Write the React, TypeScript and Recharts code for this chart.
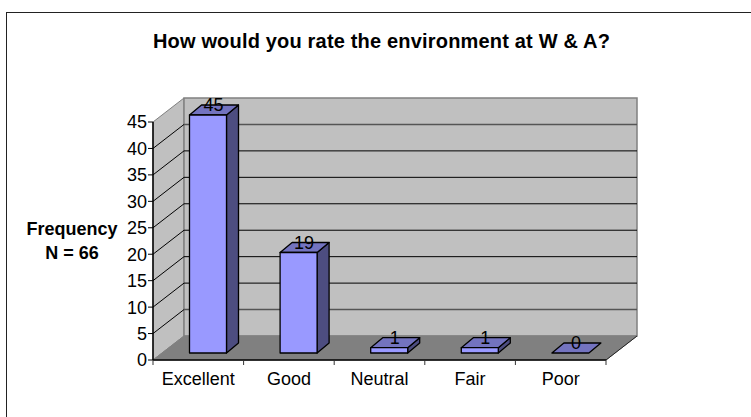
import { BarChart, Bar, XAxis, YAxis, Rectangle, ReferenceArea, ReferenceLine } from "recharts";

const categories = ["Excellent", "Good", "Neutral", "Fair", "Poor"];
const frequency = [45, 19, 1, 1, 0];
const yTicks = [0, 5, 10, 15, 20, 25, 30, 35, 40, 45];
const gridValues = [5, 10, 15, 20, 25, 30, 35, 40];

const data = categories.map((name, i) => ({ name, value: frequency[i] }));

// 3d look of the old excel chart
const DEPTH_X = 31;
const DEPTH_Y = 24;
const BAR_X = 9.5;
const BAR_Y = 7;
const BAR_DX = 12;
const BAR_DY = 10;
const BAND = 90.6;

function Bar3D(props: any) {
  const { x, y, width, height } = props;
  const l = x + BAR_X;
  const r = l + width;
  const t = y - BAR_Y;
  const b = t + height;
  return (
    <g stroke="#000" strokeWidth={1.3} strokeLinejoin="round">
      {height > 0 && <path d={`M${r} ${t}L${r + BAR_DX} ${t - BAR_DY}V${b - BAR_DY}L${r} ${b}Z`} fill="#4d4d80" />}
      <path d={`M${l} ${t}L${l + BAR_DX} ${t - BAR_DY}H${r + BAR_DX}L${r} ${t}Z`} fill="#7373bf" />
      {height > 0 && <Rectangle x={l} y={t} width={width} height={height} fill="#9999ff" stroke="#000" strokeWidth={1.3} />}
    </g>
  );
}

// wall line plus the slanted piece on the side wall
function GridLine(props: any) {
  const { x1, x2, y1, soft } = props;
  return (
    <g>
      <line x1={x1} y1={y1} x2={x1 + DEPTH_X} y2={y1 - DEPTH_Y} stroke="#000" />
      <line x1={x1 + DEPTH_X} y1={y1 - DEPTH_Y} x2={x2 + DEPTH_X} y2={y1 - DEPTH_Y} stroke={soft ? "#555" : "#000"} strokeWidth={soft ? 1.5 : 1} />
    </g>
  );
}

function Walls(props: any) {
  const { x, y, width, height } = props;
  const bottom = y + height;
  return (
    <g>
      <path
        d={`M${x} ${y}L${x + DEPTH_X} ${y - DEPTH_Y}V${bottom - DEPTH_Y}L${x} ${bottom}Z`}
        fill="#c0c0c0"
        stroke="#808080"
      />
      <rect x={x + DEPTH_X} y={y - DEPTH_Y} width={width} height={height} fill="#c0c0c0" stroke="#808080" strokeWidth={1.5} />
      <path
        d={`M${x} ${bottom}L${x + DEPTH_X} ${bottom - DEPTH_Y}H${x + width + DEPTH_X}L${x + width} ${bottom}Z`}
        fill="#808080"
        stroke="#808080"
      />
      <line x1={x + width} y1={bottom} x2={x + width + DEPTH_X} y2={bottom - DEPTH_Y} stroke="#222" />
    </g>
  );
}

// excel puts the tick marks between the categories
function XTick(props: any) {
  const { x, y, payload, index } = props;
  const left = x - BAND / 2;
  return (
    <g>
      <line x1={left} y1={y - 7} x2={left} y2={y - 2} stroke="#333" />
      {index === categories.length - 1 && <line x1={left + BAND} y1={y - 7} x2={left + BAND} y2={y - 2} stroke="#333" />}
      <text x={x} y={y + 18} textAnchor="middle" fontSize={18} fill="#000">
        {payload.value}
      </text>
    </g>
  );
}

export default function App() {
  return (
    <div style={{ position: "absolute", left: 0, top: 0, width: 751, height: 417, background: "#fff", overflow: "hidden", fontFamily: "'Liberation Sans', Arial, sans-serif" }}>
      <div style={{ position: "absolute", left: 6, top: 12, width: 760, height: 420, border: "1.5px solid #222", boxSizing: "border-box" }} />
      <div style={{ position: "absolute", left: 0, top: 30, width: 763, textAlign: "center", fontWeight: "bold", fontSize: 20, letterSpacing: 0.18, color: "#000", whiteSpace: "nowrap" }}>
        How would you rate the environment at W &amp; A?
      </div>
      <div style={{ position: "absolute", left: 16, top: 217, width: 112, textAlign: "center", fontWeight: "bold", fontSize: 18, lineHeight: "24px", color: "#000" }}>
        Frequency<br />N = 66
      </div>
      <div style={{ position: "absolute", left: 0, top: 0 }}>
        <BarChart
          width={751}
          height={417}
          data={data}
          margin={{ top: 122, right: 145, bottom: 27, left: 0 }}
          barSize={37}
        >
          <ReferenceArea y1={0} y2={45} shape={(p: any) => <Walls {...p} />} zIndex={-20} />
          {gridValues.map((v) => (
            <ReferenceLine
              key={v}
              y={v}
              zIndex={-10}
              shape={(p: any) => <GridLine {...p} soft={v === 40 || v === 5} />}
            />
          ))}
          <XAxis
            dataKey="name"
            interval={0}
            tick={(p: any) => <XTick {...p} />}
            tickLine={false}
            tickSize={5}
            axisLine={{ stroke: "#000", strokeWidth: 1.5 }}
          />
          <YAxis
            width={153}
            domain={[0, 45]}
            ticks={yTicks}
            interval={0}
            tick={{ fontSize: 18, fill: "#000" }}
            tickLine={{ stroke: "#000" }}
            tickSize={5}
            tickMargin={1}
            axisLine={{ stroke: "#000", strokeWidth: 1.5 }}
          />
          <Bar
            dataKey="value"
            isAnimationActive={false}
            zIndex={500}
            shape={(p: any) => <Bar3D {...p} />}
            label={{ position: "top", dx: 15, offset: 11, fontSize: 18, fill: "#000" }}
          />
        </BarChart>
      </div>
    </div>
  );
}
